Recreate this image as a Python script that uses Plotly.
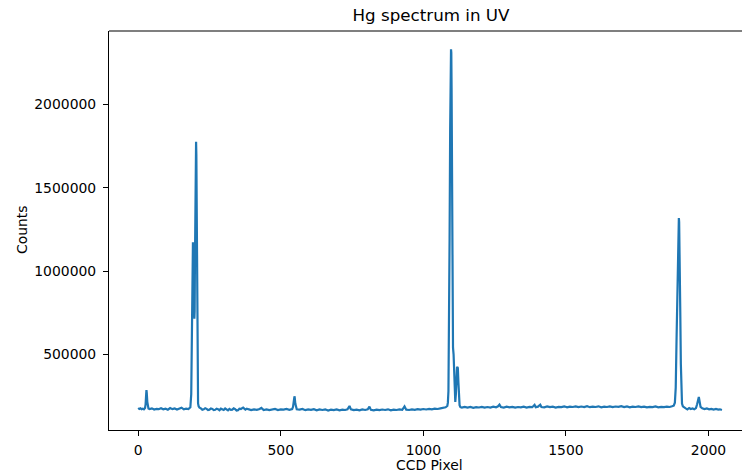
import plotly.graph_objects as go

# ---- data ----
pixel = [
    0, 4, 8, 12, 16, 20, 24, 26, 28, 29, 30, 32, 34, 36,
    40, 48, 56, 64, 72, 80, 88, 96, 104, 112, 120, 128, 136, 144, 152, 160, 168, 176, 180,
    183, 186, 188, 190, 191, 192, 193, 194, 195, 196, 197, 198, 199, 200, 201, 202, 203, 204,
    205, 206, 207, 208, 209, 210, 212, 215,
    220, 225, 230, 235, 240, 245, 250, 255, 260, 265, 270, 275, 280, 285, 290, 295, 300, 305,
    310, 315, 320, 325, 330, 335, 340, 345, 350, 355, 360, 368, 376, 381, 386,
    396, 406, 416, 426, 432, 440, 450, 460, 470, 480, 490, 500, 510, 520, 530, 540,
    543, 545, 547, 548, 549, 551, 553, 556,
    566, 576, 586, 596, 606, 616, 626, 636, 646, 656, 666, 676, 686, 696, 706, 716, 726, 734,
    741, 746, 756, 766, 776, 786, 796, 805, 811, 816, 826, 836, 846, 856, 866, 876, 886, 896,
    906, 916, 926, 934, 940, 950, 960, 970, 980, 990, 1000, 1010, 1020, 1030, 1040, 1050,
    1060, 1070, 1078, 1084,
    1086, 1088, 1090, 1092, 1094, 1096, 1097, 1098, 1099, 1100, 1101, 1102, 1103, 1104, 1106,
    1108, 1110, 1112, 1114, 1116, 1118, 1120, 1121, 1123, 1125, 1127, 1130, 1135,
    1145, 1155, 1165, 1175, 1185, 1195, 1205, 1215, 1225, 1235, 1245, 1255, 1262, 1267, 1272,
    1282, 1292, 1302, 1312, 1322, 1332, 1342, 1352, 1362, 1372, 1382, 1390, 1394, 1402, 1410,
    1414, 1424, 1434, 1444, 1454, 1464, 1474, 1484, 1494, 1504, 1514, 1524, 1534, 1544, 1554,
    1564, 1574, 1584, 1594, 1604, 1614, 1624, 1634, 1644, 1654, 1664, 1674, 1684, 1694, 1704,
    1714, 1724, 1734, 1744, 1754, 1764, 1774, 1784, 1794, 1804, 1814, 1824, 1834, 1844, 1854,
    1864, 1872, 1878,
    1882, 1885, 1888, 1891, 1893, 1895, 1896, 1897, 1899, 1901, 1903, 1905, 1907, 1910, 1915,
    1920, 1926, 1932, 1938, 1944, 1950, 1956, 1960, 1963, 1966, 1969, 1972, 1978, 1986, 1994,
    2002, 2010, 2018, 2026, 2034, 2040, 2047,
]
counts = [
    178000, 172000, 176000, 171000, 174000, 170000, 178000, 200000, 260000, 285000, 270000, 215000, 182000, 175000,
    172000, 176000, 169000, 173000, 171000, 177000, 170000, 174000, 168000, 178000, 171000, 175000, 169000, 173000, 180000, 170000, 174000, 172000, 176000,
    182000, 260000, 500000, 900000, 1100000, 1172000, 1168000, 1150000, 1000000, 800000, 714000, 760000, 1050000, 1400000, 1650000, 1760000, 1775000, 1700000,
    1450000, 1050000, 650000, 380000, 250000, 205000, 188000, 180000,
    176000, 168000, 170000, 177000, 173000, 166000, 168000, 175000, 172000, 165000, 167000, 174000, 171000, 164000, 174000, 168000, 166000, 175000,
    170000, 164000, 173000, 167000, 168000, 176000, 171000, 163000, 165000, 174000, 172000, 180000, 168000, 174000, 171000,
    166000, 170000, 167000, 172000, 179000, 166000, 170000, 165000, 169000, 172000, 166000, 170000, 168000, 172000, 167000, 171000,
    185000, 215000, 245000, 248000, 240000, 205000, 180000, 170000,
    168000, 172000, 165000, 170000, 167000, 171000, 164000, 169000, 166000, 170000, 163000, 168000, 165000, 169000, 164000, 168000, 166000, 170000,
    190000, 170000, 165000, 168000, 164000, 169000, 166000, 170000, 186000, 167000, 164000, 168000, 165000, 169000, 166000, 170000, 164000, 168000,
    166000, 170000, 167000, 188000, 168000, 166000, 170000, 167000, 171000, 168000, 172000, 169000, 173000, 170000, 174000, 172000,
    176000, 178000, 182000, 190000,
    210000, 280000, 600000, 1200000, 1850000, 2270000, 2330000, 2310000, 2100000, 1700000, 1200000, 800000, 620000, 540000, 500000,
    380000, 250000, 214000, 260000, 360000, 420000, 424000, 415000, 330000, 230000, 195000, 183000, 180000,
    185000, 180000, 184000, 179000, 183000, 181000, 185000, 180000, 184000, 181000, 186000, 182000, 188000, 198000, 184000,
    181000, 186000, 182000, 185000, 180000, 184000, 182000, 186000, 181000, 185000, 183000, 197000, 183000, 186000, 198000,
    184000, 182000, 187000, 183000, 186000, 181000, 185000, 183000, 188000, 182000, 186000, 184000, 188000, 183000, 187000,
    184000, 189000, 183000, 186000, 184000, 188000, 182000, 186000, 184000, 188000, 183000, 187000, 185000, 189000, 184000,
    187000, 182000, 186000, 184000, 188000, 183000, 186000, 182000, 185000, 183000, 187000, 182000, 185000, 183000, 186000,
    184000, 188000, 192000,
    210000, 300000, 600000, 1000000, 1220000, 1310000, 1318000, 1295000, 1100000, 750000, 440000, 270000, 205000, 188000, 180000,
    176000, 170000, 178000, 172000, 175000, 170000, 178000, 200000, 230000, 244000, 215000, 185000, 176000, 172000, 175000,
    170000, 173000, 169000, 172000, 168000, 170000, 166000,
]

x_ticks = [0, 500, 1000, 1500, 2000]
y_ticks = [500000, 1000000, 1500000, 2000000]
y_tick_labels = ["500000", "1000000", "1500000", "2000000"]

FONT = "DejaVu Sans"
W, H = 742, 476
L, R, T, B = 109, 0, 31, 46

fig = go.Figure()
fig.add_trace(go.Scatter(
    x=pixel, y=counts, mode="lines",
    line=dict(color="#1f77b4", width=2.2),
    showlegend=False, hoverinfo="skip",
))

fig.update_layout(
    width=W, height=H,
    margin=dict(l=L, r=R, t=T, b=B, pad=0, autoexpand=False),
    paper_bgcolor="white", plot_bgcolor="white",
    font=dict(family=FONT, size=13.9, color="black"),
    title=dict(text="Hg spectrum in UV", font=dict(family=FONT, size=16.7, color="black"),
               x=431 / W, xref="container", xanchor="center",
               y=1 - 15 / H, yref="container", yanchor="middle", automargin=False),
    xaxis=dict(
        range=[-102.35, 2117.4], tickvals=x_ticks, ticks="outside", ticklen=5, tickwidth=1.1,
        tickcolor="black", showline=True, linecolor="black", linewidth=1.1,
        showgrid=False, zeroline=False, automargin=False, ticklabelstandoff=2,
    ),
    yaxis=dict(
        range=[46000, 2440000], tickvals=y_ticks, ticktext=y_tick_labels, ticks="outside",
        ticklen=5, tickwidth=1.1, tickcolor="black", showline=True, linecolor="black",
        linewidth=1.1, showgrid=False, zeroline=False, automargin=False, ticklabelstandoff=4,
    ),
    shapes=[dict(type="line", xref="paper", yref="paper", x0=0, x1=1, y0=1, y1=1,
                 line=dict(color="black", width=1.1))],
    annotations=[
        dict(text="CCD Pixel", xref="paper", yref="paper",
             x=(429 - L) / (W - L - R), y=-(465 - (H - B)) / (H - T - B),
             xanchor="center", yanchor="middle", showarrow=False,
             font=dict(family=FONT, size=13.9, color="black")),
        dict(text="Counts", xref="paper", yref="paper",
             x=-(L - 22) / (W - L - R), y=((H - B) - 230) / (H - T - B),
             xanchor="center", yanchor="middle", textangle=-90, showarrow=False,
             font=dict(family=FONT, size=13.9, color="black")),
    ],
)

fig.write_html(
    "out.html",
    config={"displayModeBar": False},
    post_script="document.body.style.margin='0px';document.body.style.overflow='hidden';",
)
